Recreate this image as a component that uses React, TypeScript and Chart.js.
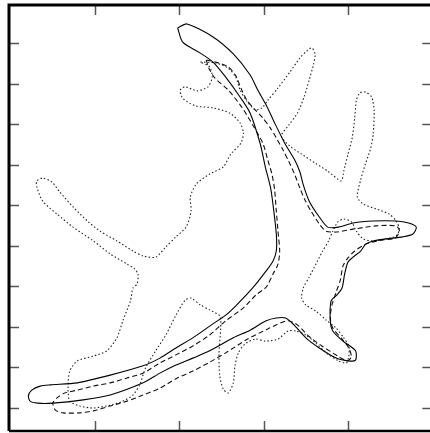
import React, { useEffect, useRef } from "react";
import { Chart, registerables } from "chart.js";

Chart.register(...registerables);

const xTickValues = [1, 2, 3, 4];
const yTickValues = [0, 1, 2, 3, 4, 5, 6, 7, 8, 9];

const solidContour: [number, number][] = [
  [1.98, 9.37], [2.09, 9.47], [2.40, 9.15], [2.64, 8.73], [2.84, 8.21], [2.93, 7.84], [3.03, 7.47],
  [3.13, 7.03], [3.25, 6.53], [3.37, 6.11], [3.43, 5.82], [3.47, 5.50], [3.54, 5.10], [3.66, 4.71],
  [3.76, 4.46], [3.89, 4.46], [4.06, 4.56], [4.30, 4.61], [4.57, 4.61], [4.72, 4.56], [4.81, 4.46],
  [4.77, 4.29], [4.65, 4.22], [4.45, 4.17], [4.30, 4.12], [4.21, 4.04], [4.15, 3.87], [4.06, 3.72],
  [4.00, 3.60], [3.96, 3.30], [3.93, 2.96], [3.87, 2.79], [3.80, 2.64], [3.79, 2.15], [3.82, 1.90],
  [3.94, 1.65], [4.09, 1.41], [4.09, 1.18], [4.01, 1.16], [3.86, 1.23], [3.66, 1.48], [3.50, 1.73],
  [3.36, 2.05], [3.26, 2.22], [3.15, 2.22], [3.03, 2.15], [2.84, 1.92], [2.64, 1.73], [2.36, 1.41],
  [2.16, 1.23], [1.96, 1.06], [1.77, 0.86], [1.57, 0.62], [1.18, 0.32], [0.86, 0.20], [0.50, 0.12],
  [0.32, 0.12], [0.23, 0.17], [0.21, 0.30], [0.25, 0.44], [0.35, 0.54], [0.47, 0.57], [0.79, 0.62],
  [1.18, 0.81], [1.57, 1.04], [1.77, 1.23], [1.96, 1.48], [2.16, 1.73], [2.36, 2.02], [2.55, 2.29],
  [2.67, 2.52], [2.87, 2.96], [3.03, 3.38], [3.11, 3.62], [3.15, 3.87], [3.15, 4.29], [3.11, 5.03],
  [3.08, 5.45], [3.02, 5.94], [2.96, 6.51], [2.84, 7.27], [2.72, 7.67], [2.55, 8.16], [2.40, 8.53],
  [2.25, 8.75], [2.04, 9.02], [1.98, 9.37],
];

const dashedContour: [number, number][] = [
  [2.32, 8.58], [2.43, 8.53], [2.58, 8.41], [2.67, 8.19], [2.73, 7.89], [2.80, 7.59], [2.90, 7.35],
  [2.99, 7.15], [3.08, 6.90], [3.15, 6.66], [3.23, 6.36], [3.30, 6.07], [3.37, 5.75], [3.43, 5.42],
  [3.49, 5.13], [3.56, 4.86], [3.66, 4.54], [3.74, 4.36], [3.86, 4.34], [4.06, 4.41], [4.33, 4.49],
  [4.57, 4.49], [4.61, 4.36], [4.56, 4.19], [4.40, 4.14], [4.21, 4.04], [4.08, 3.87], [4.00, 3.70],
  [3.94, 3.50], [3.91, 3.16], [3.86, 2.86], [3.81, 2.54], [3.79, 2.22], [3.82, 1.97], [3.93, 1.70],
  [4.01, 1.48], [4.04, 1.26], [3.99, 1.16], [3.88, 1.28], [3.69, 1.53], [3.53, 1.78], [3.40, 2.05],
  [3.28, 2.15], [3.05, 1.95], [2.81, 1.70], [2.55, 1.36], [2.36, 1.13], [2.16, 0.91], [1.96, 0.72],
  [1.77, 0.49], [1.57, 0.32], [1.38, 0.17], [1.18, 0.05], [0.98, -0.07], [0.82, -0.12], [0.62, -0.12],
  [0.53, -0.05], [0.50, 0.12], [0.55, 0.25], [0.64, 0.37], [0.79, 0.44], [0.98, 0.54], [1.18, 0.62],
  [1.38, 0.74], [1.57, 0.86], [1.77, 1.11], [1.96, 1.31], [2.16, 1.53], [2.36, 1.80], [2.55, 2.15],
  [2.76, 2.47], [2.91, 2.79], [3.03, 2.98], [3.11, 3.30], [3.17, 3.55], [3.19, 3.87], [3.17, 4.36],
  [3.15, 4.86], [3.13, 5.38], [3.10, 5.75], [3.05, 6.11], [2.99, 6.53], [2.87, 6.98], [2.74, 7.42],
  [2.58, 7.84], [2.42, 8.14], [2.35, 8.38], [2.32, 8.58],
];

const dottedContour: [number, number][] = [
  [2.25, 8.53], [2.43, 8.51], [2.58, 8.38], [2.67, 8.16], [2.72, 7.84], [2.80, 7.57], [2.90, 7.35],
  [2.98, 7.40], [3.05, 7.59], [3.17, 7.89], [3.31, 8.28], [3.43, 8.63], [3.51, 8.80], [3.57, 8.88],
  [3.61, 8.73], [3.59, 8.46], [3.54, 8.09], [3.48, 7.67], [3.40, 7.27], [3.30, 6.98], [3.21, 6.71],
  [3.31, 6.46], [3.45, 6.26], [3.61, 6.04], [3.76, 5.84], [3.92, 5.60], [3.95, 5.84], [4.00, 6.26],
  [4.05, 6.66], [4.08, 7.15], [4.10, 7.59], [4.14, 7.77], [4.21, 7.79], [4.28, 7.67], [4.31, 7.35],
  [4.30, 6.78], [4.27, 6.41], [4.21, 6.04], [4.15, 5.62], [4.11, 5.20], [4.18, 5.03], [4.33, 4.91],
  [4.49, 4.78], [4.57, 4.61], [4.61, 4.41], [4.57, 4.24], [4.45, 4.17], [4.30, 4.12], [4.18, 4.17],
  [4.10, 4.36], [4.04, 4.59], [3.95, 4.66], [3.88, 4.59], [3.82, 4.36], [3.77, 4.12], [3.70, 3.87],
  [3.62, 3.55], [3.54, 3.23], [3.47, 2.96], [3.45, 2.71], [3.50, 2.54], [3.62, 2.39], [3.74, 2.17],
  [3.86, 1.97], [3.95, 1.73], [4.01, 1.53], [4.01, 1.28], [3.98, 1.11], [3.89, 1.16], [3.74, 1.36],
  [3.62, 1.60], [3.50, 1.80], [3.38, 1.90], [3.29, 1.90], [3.17, 1.70], [3.02, 1.65], [2.90, 1.70],
  [2.78, 1.58], [2.70, 1.36], [2.66, 1.04], [2.64, 0.62], [2.58, 0.37], [2.52, 0.47], [2.48, 0.79],
  [2.47, 1.31], [2.49, 1.97], [2.48, 2.27], [2.36, 2.42], [2.25, 2.54], [2.14, 2.71], [2.07, 2.66],
  [1.96, 2.29], [1.84, 1.80], [1.72, 1.41], [1.60, 0.99], [1.53, 0.57], [1.45, 0.32], [1.33, 0.17],
  [1.18, 0.07], [0.98, 0.00], [0.82, 0.05], [0.70, 0.17], [0.68, 0.49], [0.70, 0.91], [0.79, 1.16],
  [0.98, 1.28], [1.14, 1.41], [1.26, 1.73], [1.33, 2.15], [1.42, 2.64], [1.45, 2.96], [1.50, 3.06],
  [1.51, 3.30], [1.47, 3.43], [1.38, 3.55], [1.18, 3.80], [0.98, 4.12], [0.74, 4.46], [0.55, 4.78],
  [0.38, 5.10], [0.31, 5.45], [0.31, 5.60], [0.38, 5.67], [0.49, 5.57], [0.58, 5.33], [0.74, 4.96],
  [0.91, 4.61], [1.06, 4.36], [1.26, 4.12], [1.45, 3.87], [1.57, 3.75], [1.72, 3.72], [1.84, 3.97],
  [1.96, 4.22], [2.08, 4.46], [2.14, 4.86], [2.13, 5.20], [2.20, 5.52], [2.36, 5.77], [2.52, 5.94],
  [2.61, 6.26], [2.73, 6.53], [2.76, 6.78], [2.72, 7.03], [2.60, 7.27], [2.40, 7.40], [2.19, 7.45],
  [2.04, 7.64], [2.01, 7.84], [2.07, 7.92], [2.21, 7.82], [2.34, 7.92], [2.39, 8.16], [2.36, 8.41],
  [2.25, 8.53],
];

const X_MIN = -0.02;
const X_MAX = 5.0;
const Y_MIN = -0.567;
const Y_MAX = 9.937;

const framePlugin = {
  id: "frameTicks",
  afterDraw(chart: any) {
    const { ctx, chartArea, scales } = chart;
    const { left, top, right, bottom } = chartArea;
    const xs = scales.x;
    const ys = scales.y;
    ctx.save();
    const tickLen = 10;
    ctx.strokeStyle = "#555";
    ctx.lineWidth = 1.5;
    ctx.beginPath();
    xTickValues.forEach((v) => {
      const px = Math.round(xs.getPixelForValue(v)) + 0.5;
      ctx.moveTo(px, top);
      ctx.lineTo(px, top + tickLen);
      ctx.moveTo(px, bottom);
      ctx.lineTo(px, bottom - tickLen);
    });
    yTickValues.forEach((v) => {
      const py = Math.round(ys.getPixelForValue(v)) + 0.5;
      ctx.moveTo(left, py);
      ctx.lineTo(left + tickLen, py);
      ctx.moveTo(right, py);
      ctx.lineTo(right - tickLen, py);
    });
    ctx.stroke();
    ctx.strokeStyle = "#000";
    ctx.lineWidth = 3;
    ctx.beginPath();
    ctx.moveTo(left, bottom);
    ctx.lineTo(left, top);
    ctx.lineTo(right, top);
    ctx.stroke();
    ctx.lineWidth = 2.5;
    ctx.beginPath();
    ctx.moveTo(left, bottom);
    ctx.lineTo(right, bottom);
    ctx.lineTo(right, top);
    ctx.stroke();
    ctx.restore();
  },
};

const toPoints = (arr: [number, number][]) => arr.map(([x, y]) => ({ x, y }));

export default function App() {
  const canvasRef = useRef<HTMLCanvasElement | null>(null);

  useEffect(() => {
    if (!canvasRef.current) return;
    const chart = new Chart(canvasRef.current, {
      type: "scatter",
      data: {
        datasets: [
          {
            label: "solid",
            data: toPoints(solidContour),
            showLine: true,
            borderColor: "#000",
            borderWidth: 1.1,
            pointRadius: 0,
            tension: 0.25,
            fill: false,
          },
          {
            label: "dashed",
            data: toPoints(dashedContour),
            showLine: true,
            borderColor: "#111",
            borderWidth: 1.1,
            borderDash: [5, 3],
            pointRadius: 0,
            tension: 0.25,
            fill: false,
          },
          {
            label: "dotted",
            data: toPoints(dottedContour),
            showLine: true,
            borderColor: "#222",
            borderWidth: 1.1,
            borderDash: [1.5, 2.2],
            pointRadius: 0,
            tension: 0.25,
            fill: false,
          },
        ],
      },
      options: {
        animation: false,
        responsive: false,
        devicePixelRatio: 1,
        layout: { padding: { left: 9, top: 5, right: 7.7, bottom: 2 } },
        plugins: { legend: { display: false }, tooltip: { enabled: false } },
        scales: {
          x: { type: "linear", min: X_MIN, max: X_MAX, display: false },
          y: { type: "linear", min: Y_MIN, max: Y_MAX, display: false },
        },
      },
      plugins: [framePlugin],
    });
    return () => chart.destroy();
  }, []);

  return (
    <div style={{ position: "fixed", left: 0, top: 0, width: 440, height: 433, background: "#fff" }}>
      <canvas ref={canvasRef} width={440} height={433} style={{ display: "block" }} />
    </div>
  );
}
